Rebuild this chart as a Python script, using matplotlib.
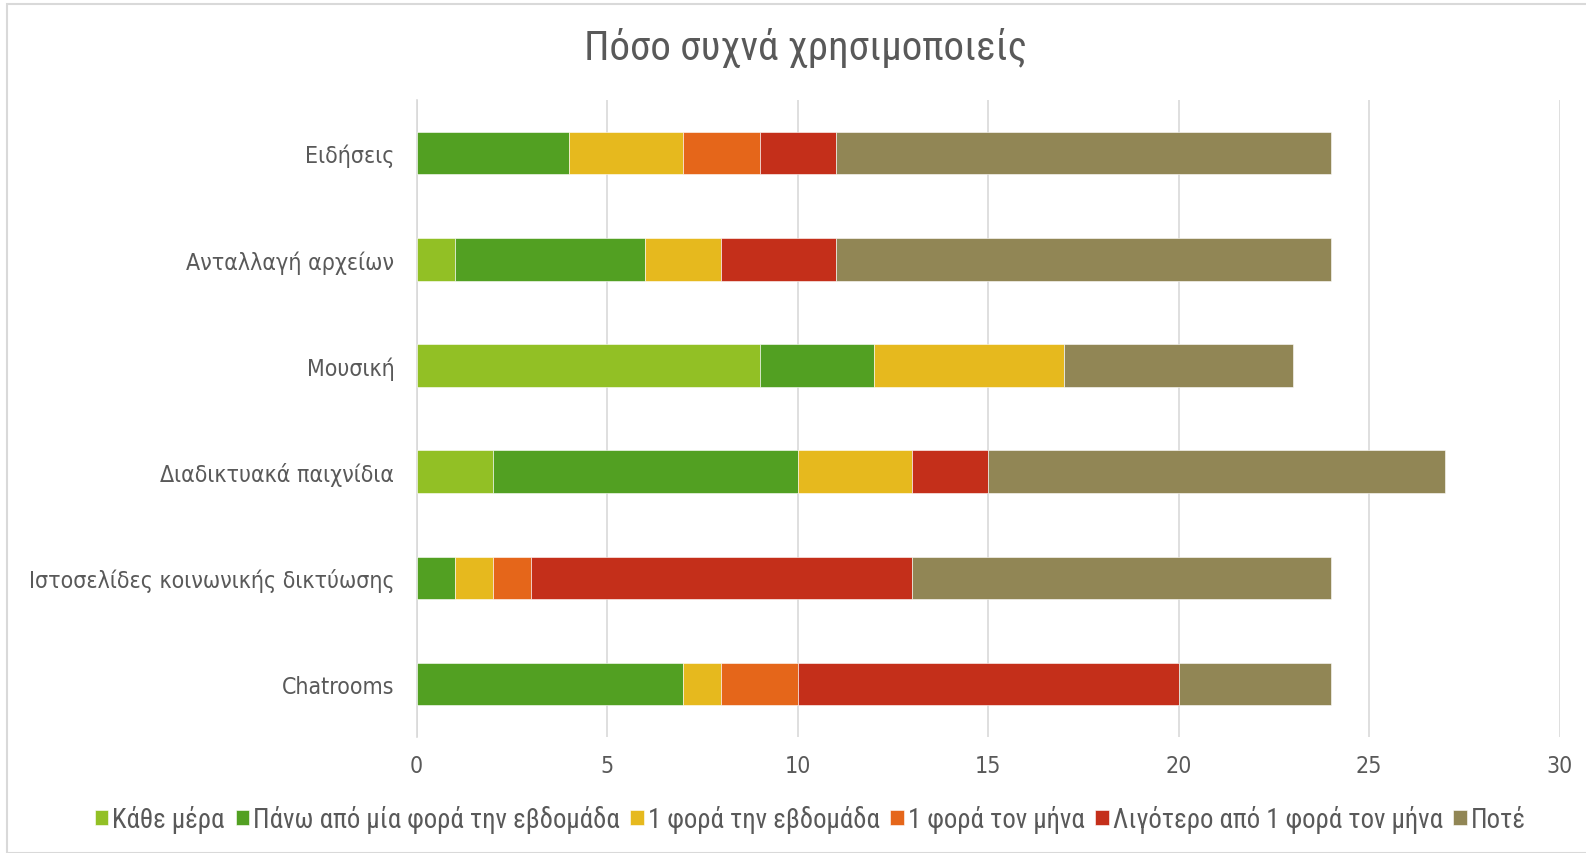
import matplotlib
matplotlib.use("Agg")
import matplotlib.pyplot as plt
from matplotlib.patches import Rectangle
from matplotlib.font_manager import FontProperties
import numpy as np

categories = ["Ειδήσεις", "Ανταλλαγή αρχείων", "Μουσική", "Διαδικτυακά παιχνίδια",
              "Ιστοσελίδες κοινωνικής δικτύωσης", "Chatrooms"]
series_names = ["Κάθε μέρα", "Πάνω από μία φορά την εβδομάδα", "1 φορά την εβδομάδα",
                "1 φορά τον μήνα", "Λιγότερο από 1 φορά τον μήνα", "Ποτέ"]
kathe_mera = [0, 1, 9, 2, 0, 0]
pano_apo_mia = [4, 5, 3, 8, 1, 7]
mia_evdomada = [3, 2, 5, 3, 1, 1]
mia_mina = [2, 0, 0, 0, 1, 2]
ligotero = [2, 3, 0, 2, 10, 10]
pote = [13, 13, 6, 12, 11, 4]
colors = ["#92C025", "#52A022", "#E6B91E", "#E5661A", "#C42F1A", "#918655"]
x_ticks = [0, 5, 10, 15, 20, 25, 30]

series = [kathe_mera, pano_apo_mia, mia_evdomada, mia_mina, ligotero, pote]

plt.rcParams['font.family'] = ['DejaVu Sans']
tick_fp = FontProperties(family=['DejaVu Sans'], stretch='condensed', size=16.6)
title_fp = FontProperties(family=['Roboto Condensed', 'DejaVu Sans'], size=29.5)
leg_fp = FontProperties(family=['Roboto Condensed', 'DejaVu Sans'], size=19.3)

fig = plt.figure(figsize=(15.86, 8.54), dpi=100)
ax = fig.add_axes([0.2627, 0.1358, 0.9834 - 0.2627, 0.8817 - 0.1358])

y = np.arange(len(categories))
left = np.zeros(len(categories))
for name, vals, c in zip(series_names, series, colors):
    vals = np.array(vals, dtype=float)
    ax.barh(y, vals, left=left, height=0.4, color=c, label=name,
            edgecolor="white", linewidth=0.4, zorder=3)
    left += vals

ax.set_ylim(len(categories) - 0.5, -0.5)
ax.set_xlim(0, 30)
ax.set_xticks(x_ticks)
ax.set_xticklabels([str(t) for t in x_ticks])
ax.set_yticks(y)
ax.set_yticklabels(categories)
for lbl in ax.get_xticklabels() + ax.get_yticklabels():
    lbl.set_fontproperties(tick_fp)
    lbl.set_color("#595959")
ax.grid(axis="x", color="#D9D9D9", linewidth=1.2, zorder=0)
for s in ["top", "right", "bottom"]:
    ax.spines[s].set_visible(False)
ax.spines["left"].set_color("#D9D9D9")
ax.spines["left"].set_linewidth(1.2)
ax.tick_params(axis="both", length=0)
ax.tick_params(axis="x", pad=12)
ax.tick_params(axis="y", pad=16)

fig.text(0.508, 0.944, "Πόσο συχνά χρησιμοποιείς", ha="center", va="center",
         color="#595959", fontproperties=title_fp)

leg = fig.legend(loc="center", bbox_to_anchor=(0.511, 0.040), ncol=6, frameon=False,
                 handlelength=0.5, handleheight=0.5, handletextpad=0.15,
                 columnspacing=0.4, prop=leg_fp)
for t in leg.get_texts():
    t.set_color("#595959")

fig.patches.append(Rectangle((7 / 1586, 0.0), 1 - 7 / 1586 + 0.01, 1 - 5 / 854,
                             transform=fig.transFigure, fill=False,
                             edgecolor="#D9D9D9", linewidth=1.5))

fig.savefig("out.png", dpi=100, facecolor="white")
